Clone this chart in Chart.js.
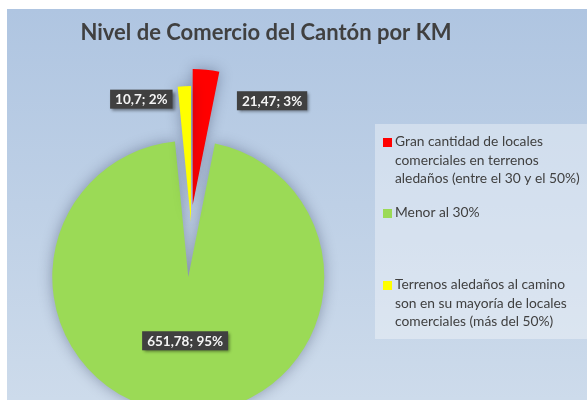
<!DOCTYPE html>
<html>
<head>
<meta charset="utf-8">
<script src="https://cdn.jsdelivr.net/npm/chart.js@4.4.0/dist/chart.umd.min.js"></script>
<style>
    html, body { margin: 0; padding: 0; background: #ffffff; }
    #wrap { width: 587px; height: 400px; position: relative; }
</style>
</head>
<body>
<div id="wrap"><canvas id="myChart"></canvas></div>
<script>
const titulo = "Nivel de Comercio del Cantón por KM";

const categorias = [
    "Gran cantidad de locales comerciales en terrenos aledaños (entre el 30 y el 50%)",
    "Menor al 30%",
    "Terrenos aledaños al camino son en su mayoría de locales comerciales (más del 50%)"
];
const valores = [21.47, 651.78, 10.7];
const colores = ['#ff0000', '#9bda56', '#ffff00'];

// texto de la leyenda tal como aparece partido en lineas
const lineasLeyenda = [
    ["Gran cantidad de locales", "comerciales en terrenos", "aledaños (entre el 30 y el 50%)"],
    ["Menor al 30%"],
    ["Terrenos aledaños al camino", "son en su mayoría de locales", "comerciales (más del 50%)"]
];

// separacion de cada porcion (px) y ubicacion de sus etiquetas
const separacion = [17, 55, 0];
const etiquetaRadio = [1, 0.47, 1];
const etiquetaDesplaz = [[66, 31], [0, 0], [-43, 13]];

const total = valores.reduce((a, b) => a + b, 0);
const textoEtiqueta = (i) => {
    const v = String(valores[i]).replace('.', ',');
    const p = Math.round(valores[i] / total * 100);
    return `${v}; ${p}%`;
};

const fondo = {
    id: 'fondo',
    beforeDraw(chart) {
        const ctx = chart.ctx;
        ctx.save();
        ctx.fillStyle = '#ffffff';
        ctx.fillRect(0, 0, chart.width, chart.height);
        const g = ctx.createLinearGradient(0, 9, 0, chart.height);
        g.addColorStop(0, '#afc5e1');
        g.addColorStop(1, '#cddbeb');
        ctx.fillStyle = g;
        ctx.fillRect(7, 9, chart.width - 7, chart.height - 9);

        ctx.fillStyle = '#404040';
        ctx.font = 'bold 22px Lato';
        ctx.textAlign = 'center';
        ctx.textBaseline = 'middle';
        ctx.fillText(titulo, 266, 33);
        ctx.restore();
    }
};

const explotar = {
    id: 'explotar',
    afterDatasetsUpdate(chart) {
        chart.getDatasetMeta(0).data.forEach((arc, i) => {
            const mid = (arc.startAngle + arc.endAngle) / 2;
            arc.x += Math.cos(mid) * separacion[i];
            arc.y += Math.sin(mid) * separacion[i];
        });
    },
    beforeDatasetsDraw(chart) {
        const ctx = chart.ctx;
        ctx.save();
        ctx.shadowColor = 'rgba(20, 30, 60, 0.35)';
        ctx.shadowBlur = 14;
    },
    afterDatasetsDraw(chart) {
        chart.ctx.restore();
    }
};

const etiquetas = {
    id: 'etiquetas',
    afterDraw(chart) {
        const ctx = chart.ctx;
        ctx.save();
        ctx.font = 'bold 13.5px Lato';
        ctx.textAlign = 'center';
        ctx.textBaseline = 'middle';
        chart.getDatasetMeta(0).data.forEach((arc, i) => {
            const mid = (arc.startAngle + arc.endAngle) / 2;
            const r = arc.outerRadius * etiquetaRadio[i];
            const x = arc.x + Math.cos(mid) * r + etiquetaDesplaz[i][0];
            const y = arc.y + Math.sin(mid) * r + etiquetaDesplaz[i][1];
            const txt = textoEtiqueta(i);
            const w = ctx.measureText(txt).width + 10;
            const h = 19;
            ctx.shadowColor = 'rgba(0, 0, 0, 0.45)';
            ctx.shadowBlur = 3;
            ctx.shadowOffsetX = 2;
            ctx.shadowOffsetY = 2;
            ctx.fillStyle = '#404040';
            ctx.fillRect(x - w / 2, y - h / 2, w, h);
            ctx.shadowColor = 'transparent';
            ctx.fillStyle = '#f4f4f4';
            ctx.fillText(txt, x, y + 0.5);
        });

        // leyenda
        ctx.fillStyle = 'rgba(255, 255, 255, 0.35)';
        ctx.fillRect(375, 124, 212, 215);
        ctx.font = '13.8px Lato';
        ctx.textAlign = 'left';
        const inicio = [142, 213, 285];
        lineasLeyenda.forEach((lineas, i) => {
            ctx.fillStyle = colores[i];
            ctx.fillRect(383, inicio[i] - 4, 9, 9);
            ctx.fillStyle = '#404040';
            lineas.forEach((l, j) => {
                ctx.fillText(l, 395, inicio[i] + j * 18.5);
            });
        });
        ctx.restore();
    }
};

const data = {
    labels: categorias,
    datasets: [{
        data: valores,
        backgroundColor: colores,
        borderWidth: 0
    }]
};

const conf = {
    type: 'pie',
    data,
    options: {
        responsive: true,
        maintainAspectRatio: false,
        animation: false,
        radius: 136,
        layout: {
            padding: { left: 20, right: 225, top: 50, bottom: 6 }
        },
        plugins: {
            legend: { display: false },
            title: { display: false },
            tooltip: { enabled: false }
        }
    },
    plugins: [fondo, explotar, etiquetas]
};

const myChart = new Chart(document.getElementById('myChart'), conf);
</script>
</body>
</html>
